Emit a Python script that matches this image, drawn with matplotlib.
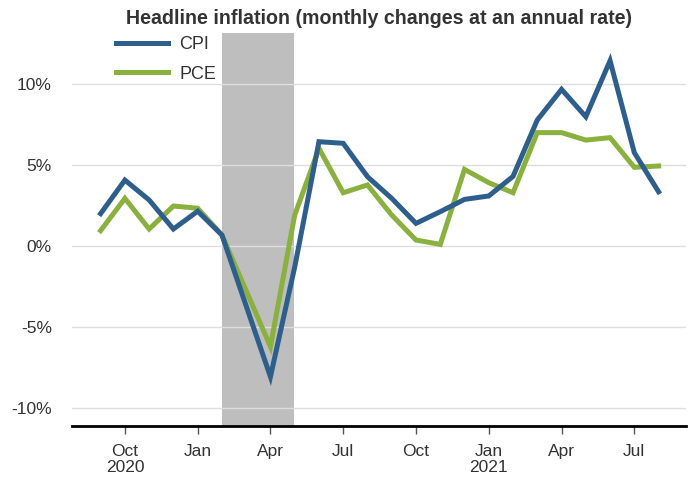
import matplotlib
matplotlib.use("Agg")
import matplotlib.pyplot as plt
from matplotlib.lines import Line2D

# Data (monthly changes at an annual rate, %)
months = ["Sep", "Oct", "Nov", "Dec", "Jan", "Feb", "Mar", "Apr", "May", "Jun", "Jul", "Aug",
          "Sep", "Oct", "Nov", "Dec", "Jan", "Feb", "Mar", "Apr", "May", "Jun", "Jul", "Aug"]
cpi = [2.0, 4.07, 2.84, 1.05, 2.15, 0.68, -3.7, -8.07, -1.3, 6.44, 6.34, 4.28,
       2.94, 1.40, 2.12, 2.88, 3.09, 4.3, 7.78, 9.67, 7.98, 11.44, 5.76, 3.35]
pce = [0.95, 2.94, 1.05, 2.47, 2.33, 0.68, -2.76, -6.21, 1.91, 6.03, 3.29, 3.77,
       1.91, 0.37, 0.1, 4.73, 3.91, 3.29, 7.0, 7.0, 6.54, 6.69, 4.86, 4.94]
tick_idx = [1, 4, 7, 10, 13, 16, 19, 22]
tick_labels = ["Oct\n2020", "Jan", "Apr", "Jul", "Oct", "Jan\n2021", "Apr", "Jul"]
y_ticks = [-10, -5, 0, 5, 10]
y_labels = ["-10%", "-5%", "0%", "5%", "10%"]
recession = (5, 7.96)

CPI_COLOR = "#2E5E8B"
PCE_COLOR = "#8AB03E"

plt.rcParams["font.family"] = ["Liberation Sans", "DejaVu Sans"]

fig = plt.figure(figsize=(6.94, 4.78), dpi=100)
W, H = 694, 478
ax = fig.add_axes([72 / W, 1 - 426 / H, (686 - 72) / W, (426 - 33) / H])

x = list(range(len(months)))
ax.axvspan(recession[0], recession[1], color="#BEBEBE", lw=0, zorder=0)
for yt in y_ticks:
    ax.axhline(yt, color="#DEDEDE", lw=1, zorder=1)

ax.plot(x, cpi, color=CPI_COLOR, lw=3.6, zorder=3, solid_joinstyle="miter")
ax.plot(x, pce, color=PCE_COLOR, lw=3.6, zorder=2, solid_joinstyle="miter")

ax.set_xlim(-1.18, 24.13)
ax.set_ylim(-11.11, 13.15)

for s in ["top", "right", "left"]:
    ax.spines[s].set_visible(False)
ax.spines["bottom"].set_color("black")
ax.spines["bottom"].set_linewidth(2)

ax.set_xticks(tick_idx)
ax.set_xticklabels(tick_labels, fontsize=12.5, color="#333333", linespacing=1.12)
ax.tick_params(axis="x", length=6, width=1, color="#555555", pad=7)
ax.set_yticks(y_ticks)
ax.set_yticklabels(y_labels, fontsize=12.5, color="#333333")
ax.tick_params(axis="y", length=0, pad=14.5)

handles = [Line2D([], [], color=CPI_COLOR, lw=3.6), Line2D([], [], color=PCE_COLOR, lw=3.6)]
leg = fig.legend(handles, ["CPI", "PCE"], loc="upper left",
                 bbox_to_anchor=(116 / W, 1 - 36 / H), frameon=False,
                 fontsize=13, handlelength=2.9, handletextpad=0.6, labelspacing=0.7,
                 borderaxespad=0, borderpad=0)
for t in leg.get_texts():
    t.set_color("#333333")

fig.text(378.5 / W, 1 - 18 / H, "Headline inflation (monthly changes at an annual rate)",
         ha="center", va="center", fontsize=14.1, fontweight="bold", color="#333333")

fig.savefig("out.png", dpi=100)
